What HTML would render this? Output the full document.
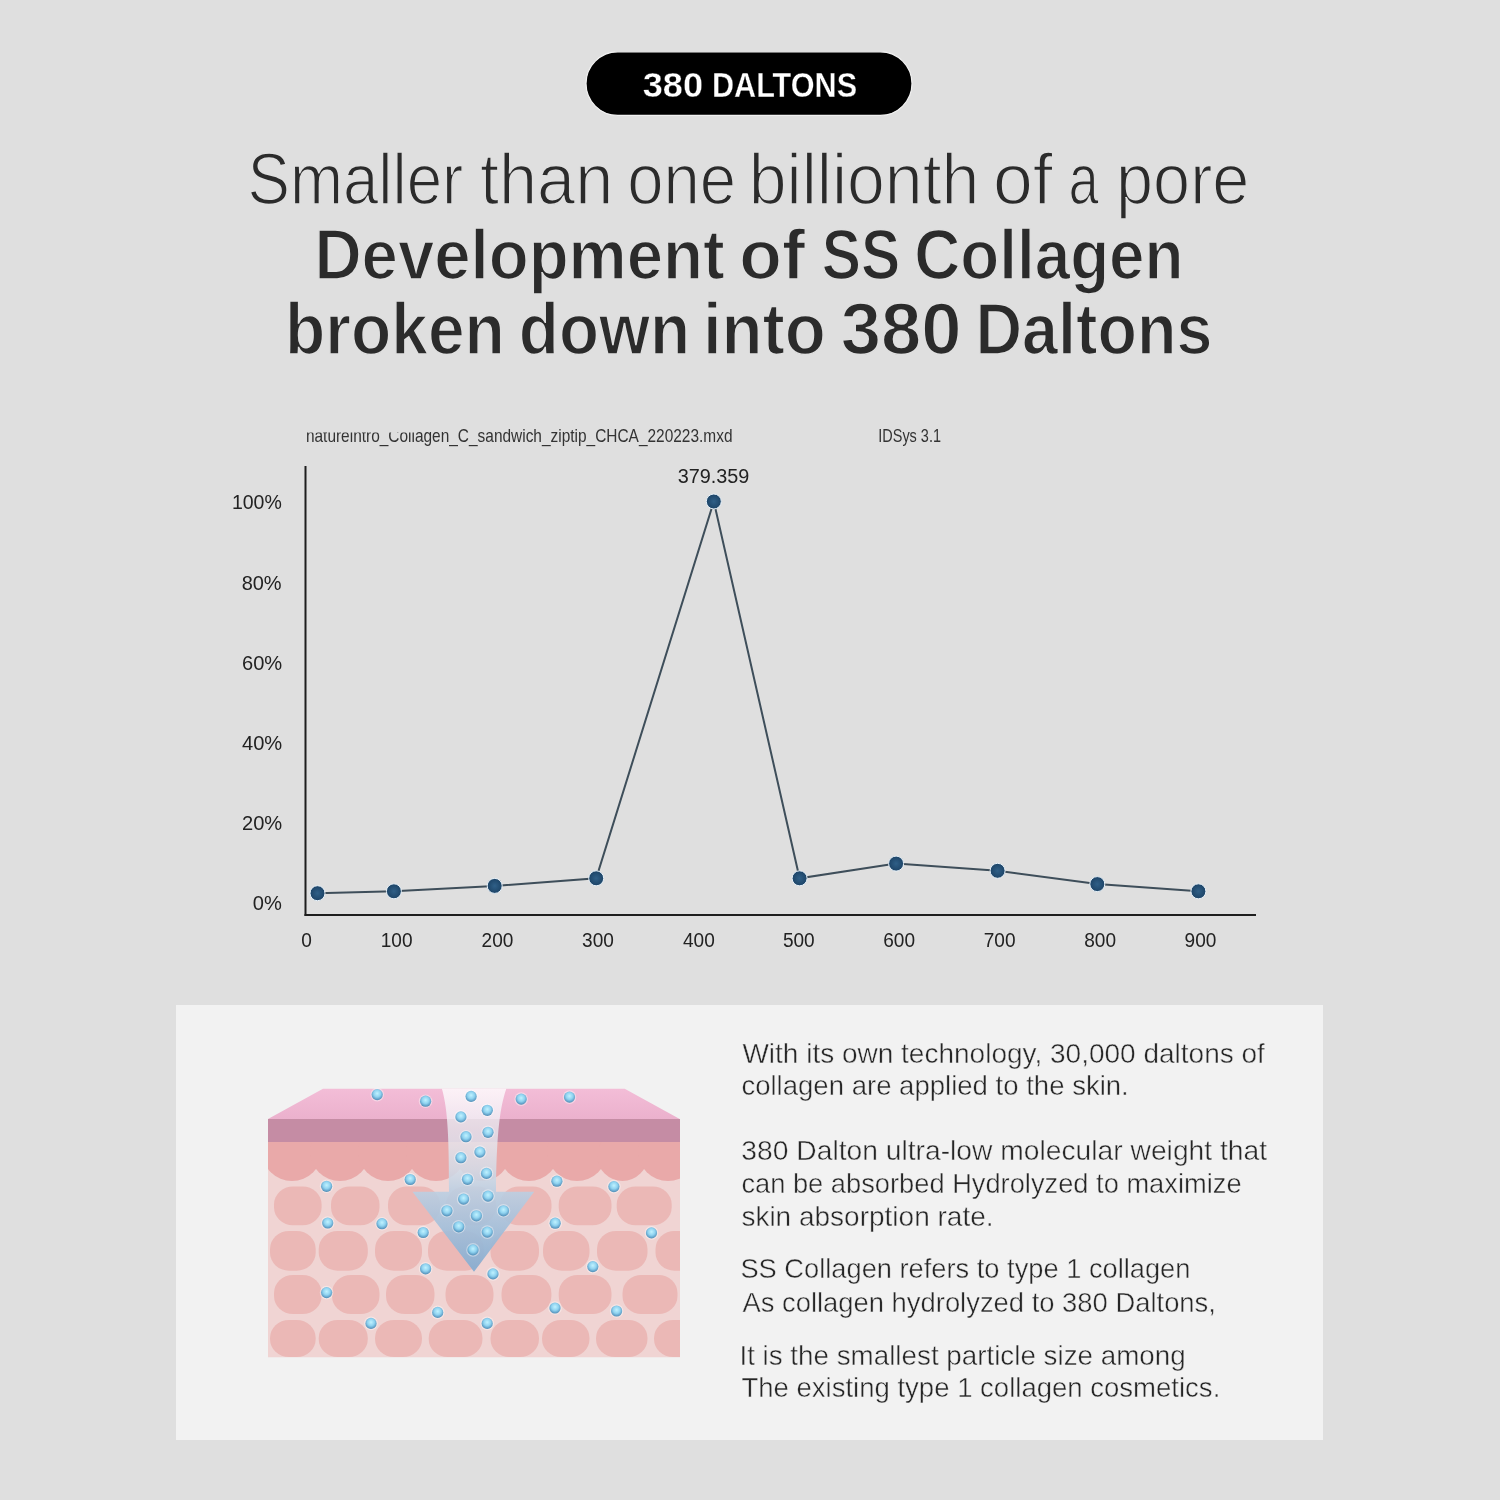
<!DOCTYPE html>
<html><head><meta charset="utf-8"><style>
html,body{margin:0;padding:0;background:#dfdfdf;width:1500px;height:1500px;overflow:hidden}
svg{display:block}
text{font-family:"Liberation Sans",sans-serif}
</style></head><body>
<svg style="will-change:transform" width="1500" height="1500" viewBox="0 0 1500 1500">
<defs>
<radialGradient id="dotg" cx="0.5" cy="0.5" r="0.5"><stop offset="0" stop-color="#2f5f87"/><stop offset="1" stop-color="#1d4467"/></radialGradient>
<radialGradient id="molg" cx="0.5" cy="0.4" r="0.62"><stop offset="0" stop-color="#c0f2ff"/><stop offset="0.5" stop-color="#90d3f0"/><stop offset="0.85" stop-color="#5f9ec6"/><stop offset="1" stop-color="#4d85ab"/></radialGradient>
<linearGradient id="topg" x1="0" y1="0" x2="0" y2="1"><stop offset="0" stop-color="#f3bdd7"/><stop offset="1" stop-color="#ebb1cd"/></linearGradient>
<linearGradient id="shaftg" x1="0" y1="1088" x2="0" y2="1272" gradientUnits="userSpaceOnUse"><stop offset="0" stop-color="#ffffff" stop-opacity="0.8"/><stop offset="0.23" stop-color="#eef0f6" stop-opacity="0.75"/><stop offset="0.44" stop-color="#d3dde9" stop-opacity="0.85"/><stop offset="0.56" stop-color="#bccfe2" stop-opacity="0.9"/><stop offset="1" stop-color="#86acd0" stop-opacity="0.95"/></linearGradient>
<linearGradient id="headg" x1="0" y1="1191" x2="0" y2="1272" gradientUnits="userSpaceOnUse"><stop offset="0" stop-color="#b0cade"/><stop offset="1" stop-color="#86afd0"/></linearGradient>
<clipPath id="fnclip"><rect x="0" y="432.4" width="414.5" height="30"/><rect x="414.5" y="400" width="1000" height="60"/></clipPath>
<clipPath id="illclip"><rect x="268" y="1080" width="412" height="277.5"/></clipPath>
</defs>
<rect width="1500" height="1500" fill="#dfdfdf"/>
<rect x="586" y="51.8" width="326" height="63.6" rx="31.8" fill="#000" stroke="#f2f2f2" stroke-width="1.2"/>
<!-- chart -->
<line x1="305.5" y1="466" x2="305.5" y2="916" stroke="#1e1e1e" stroke-width="2"/>
<line x1="304.5" y1="915" x2="1256" y2="915" stroke="#1e1e1e" stroke-width="2"/>
<polyline points="317.5,893.2 393.9,891.3 494.7,885.9 596.2,878.3 713.8,501.5 799.6,878.3 896.1,863.6 997.6,870.8 1097.3,884.1 1198.4,891.3" fill="none" stroke="#3e4e5a" stroke-width="2"/>
<circle cx="317.5" cy="893.2" r="7.5" fill="url(#dotg)" stroke="#e8f2fa" stroke-width="1"/><circle cx="393.9" cy="891.3" r="7.5" fill="url(#dotg)" stroke="#e8f2fa" stroke-width="1"/><circle cx="494.7" cy="885.9" r="7.5" fill="url(#dotg)" stroke="#e8f2fa" stroke-width="1"/><circle cx="596.2" cy="878.3" r="7.5" fill="url(#dotg)" stroke="#e8f2fa" stroke-width="1"/><circle cx="713.8" cy="501.5" r="7.5" fill="url(#dotg)" stroke="#e8f2fa" stroke-width="1"/><circle cx="799.6" cy="878.3" r="7.5" fill="url(#dotg)" stroke="#e8f2fa" stroke-width="1"/><circle cx="896.1" cy="863.6" r="7.5" fill="url(#dotg)" stroke="#e8f2fa" stroke-width="1"/><circle cx="997.6" cy="870.8" r="7.5" fill="url(#dotg)" stroke="#e8f2fa" stroke-width="1"/><circle cx="1097.3" cy="884.1" r="7.5" fill="url(#dotg)" stroke="#e8f2fa" stroke-width="1"/><circle cx="1198.4" cy="891.3" r="7.5" fill="url(#dotg)" stroke="#e8f2fa" stroke-width="1"/>
<!-- panel -->
<rect x="176" y="1005" width="1147" height="435" fill="#f2f2f2"/>
<g clip-path="url(#illclip)">
<polygon points="323,1088.8 624.7,1088.8 679.7,1119 268,1119" fill="url(#topg)"/>
<rect x="268" y="1142" width="412" height="215.5" fill="#f0d4d3"/>
<rect x="274" y="1186.4" width="47.6" height="38.9" rx="19" ry="18" fill="#ebb8b6"/><rect x="331" y="1186.4" width="48.5" height="38.9" rx="19" ry="18" fill="#ebb8b6"/><rect x="388" y="1186.4" width="52.0" height="38.9" rx="19" ry="18" fill="#ebb8b6"/><rect x="446" y="1186.4" width="50.0" height="38.9" rx="19" ry="18" fill="#ebb8b6"/><rect x="500" y="1186.4" width="51.5" height="38.9" rx="19" ry="18" fill="#ebb8b6"/><rect x="558.7" y="1186.4" width="52.8" height="38.9" rx="19" ry="18" fill="#ebb8b6"/><rect x="616.7" y="1186.4" width="55.0" height="38.9" rx="19" ry="18" fill="#ebb8b6"/><rect x="270" y="1231" width="45.7" height="39.7" rx="19" ry="18" fill="#ebb8b6"/><rect x="318.7" y="1231" width="49.1" height="39.7" rx="19" ry="18" fill="#ebb8b6"/><rect x="375" y="1231" width="47.0" height="39.7" rx="19" ry="18" fill="#ebb8b6"/><rect x="428" y="1231" width="56.0" height="39.7" rx="19" ry="18" fill="#ebb8b6"/><rect x="490.5" y="1231" width="48.5" height="39.7" rx="19" ry="18" fill="#ebb8b6"/><rect x="543" y="1231" width="46.5" height="39.7" rx="19" ry="18" fill="#ebb8b6"/><rect x="597" y="1231" width="50.5" height="39.7" rx="19" ry="18" fill="#ebb8b6"/><rect x="655.5" y="1231" width="49.5" height="39.7" rx="19" ry="18" fill="#ebb8b6"/><rect x="274" y="1275" width="47.6" height="39.0" rx="19" ry="18" fill="#ebb8b6"/><rect x="332" y="1275" width="47.5" height="39.0" rx="19" ry="18" fill="#ebb8b6"/><rect x="386" y="1275" width="48.5" height="39.0" rx="19" ry="18" fill="#ebb8b6"/><rect x="445.5" y="1275" width="48.0" height="39.0" rx="19" ry="18" fill="#ebb8b6"/><rect x="501.5" y="1275" width="49.9" height="39.0" rx="19" ry="18" fill="#ebb8b6"/><rect x="558.7" y="1275" width="52.8" height="39.0" rx="19" ry="18" fill="#ebb8b6"/><rect x="622.5" y="1275" width="55.0" height="39.0" rx="19" ry="18" fill="#ebb8b6"/><rect x="270" y="1320" width="45.7" height="37.0" rx="19" ry="18" fill="#ebb8b6"/><rect x="318.7" y="1320" width="49.1" height="37.0" rx="19" ry="18" fill="#ebb8b6"/><rect x="375" y="1320" width="47.0" height="37.0" rx="19" ry="18" fill="#ebb8b6"/><rect x="428.7" y="1320" width="53.8" height="37.0" rx="19" ry="18" fill="#ebb8b6"/><rect x="490.5" y="1320" width="48.5" height="37.0" rx="19" ry="18" fill="#ebb8b6"/><rect x="542" y="1320" width="47.5" height="37.0" rx="19" ry="18" fill="#ebb8b6"/><rect x="596" y="1320" width="51.5" height="37.0" rx="19" ry="18" fill="#ebb8b6"/><rect x="654" y="1320" width="51.0" height="37.0" rx="19" ry="18" fill="#ebb8b6"/>
<rect x="268" y="1142" width="412" height="27" fill="#e9a9a9"/>
<circle cx="292.0" cy="1151.00" r="30.00" fill="#e9a9a9"/><circle cx="340.0" cy="1151.00" r="30.00" fill="#e9a9a9"/><circle cx="388.0" cy="1151.00" r="30.00" fill="#e9a9a9"/><circle cx="436.0" cy="1151.00" r="30.00" fill="#e9a9a9"/><circle cx="482.5" cy="1153.91" r="27.09" fill="#e9a9a9"/><circle cx="529.0" cy="1151.00" r="30.00" fill="#e9a9a9"/><circle cx="577.0" cy="1151.00" r="30.00" fill="#e9a9a9"/><circle cx="622.5" cy="1155.74" r="25.26" fill="#e9a9a9"/><circle cx="668.0" cy="1151.00" r="30.00" fill="#e9a9a9"/>
<rect x="268" y="1119" width="412" height="23" fill="#c58ca4"/>
<path d="M441.9,1088.8 L506.3,1088.8 C499,1110 496.5,1140 496,1191.7 L534.2,1191.7 L474,1271.7 L412.5,1191.7 L449,1191.7 C449,1140 448,1110 441.9,1088.8 Z" fill="url(#shaftg)"/>
<circle cx="377.2" cy="1094.6" r="6.8" fill="#ffffff" fill-opacity="0.4"/><circle cx="377.2" cy="1094.6" r="5.6" fill="url(#molg)"/><circle cx="425.6" cy="1101.2" r="6.8" fill="#ffffff" fill-opacity="0.4"/><circle cx="425.6" cy="1101.2" r="5.6" fill="url(#molg)"/><circle cx="471.1" cy="1096.4" r="6.8" fill="#ffffff" fill-opacity="0.4"/><circle cx="471.1" cy="1096.4" r="5.6" fill="url(#molg)"/><circle cx="521.2" cy="1099.1" r="6.8" fill="#ffffff" fill-opacity="0.4"/><circle cx="521.2" cy="1099.1" r="5.6" fill="url(#molg)"/><circle cx="569.5" cy="1097.1" r="6.8" fill="#ffffff" fill-opacity="0.4"/><circle cx="569.5" cy="1097.1" r="5.6" fill="url(#molg)"/><circle cx="487.3" cy="1110.3" r="6.8" fill="#ffffff" fill-opacity="0.4"/><circle cx="487.3" cy="1110.3" r="5.6" fill="url(#molg)"/><circle cx="460.9" cy="1116.9" r="6.8" fill="#ffffff" fill-opacity="0.4"/><circle cx="460.9" cy="1116.9" r="5.6" fill="url(#molg)"/><circle cx="488.0" cy="1132.3" r="6.8" fill="#ffffff" fill-opacity="0.4"/><circle cx="488.0" cy="1132.3" r="5.6" fill="url(#molg)"/><circle cx="466.0" cy="1136.7" r="6.8" fill="#ffffff" fill-opacity="0.4"/><circle cx="466.0" cy="1136.7" r="5.6" fill="url(#molg)"/><circle cx="479.9" cy="1152.1" r="6.8" fill="#ffffff" fill-opacity="0.4"/><circle cx="479.9" cy="1152.1" r="5.6" fill="url(#molg)"/><circle cx="460.9" cy="1157.7" r="6.8" fill="#ffffff" fill-opacity="0.4"/><circle cx="460.9" cy="1157.7" r="5.6" fill="url(#molg)"/><circle cx="486.5" cy="1173.4" r="6.8" fill="#ffffff" fill-opacity="0.4"/><circle cx="486.5" cy="1173.4" r="5.6" fill="url(#molg)"/><circle cx="467.5" cy="1179.3" r="6.8" fill="#ffffff" fill-opacity="0.4"/><circle cx="467.5" cy="1179.3" r="5.6" fill="url(#molg)"/><circle cx="410.2" cy="1179.5" r="6.8" fill="#ffffff" fill-opacity="0.4"/><circle cx="410.2" cy="1179.5" r="5.6" fill="url(#molg)"/><circle cx="326.6" cy="1186.3" r="6.8" fill="#ffffff" fill-opacity="0.4"/><circle cx="326.6" cy="1186.3" r="5.6" fill="url(#molg)"/><circle cx="556.9" cy="1181.2" r="6.8" fill="#ffffff" fill-opacity="0.4"/><circle cx="556.9" cy="1181.2" r="5.6" fill="url(#molg)"/><circle cx="613.9" cy="1186.6" r="6.8" fill="#ffffff" fill-opacity="0.4"/><circle cx="613.9" cy="1186.6" r="5.6" fill="url(#molg)"/><circle cx="463.6" cy="1199.1" r="6.8" fill="#ffffff" fill-opacity="0.4"/><circle cx="463.6" cy="1199.1" r="5.6" fill="url(#molg)"/><circle cx="488.0" cy="1196.1" r="6.8" fill="#ffffff" fill-opacity="0.4"/><circle cx="488.0" cy="1196.1" r="5.6" fill="url(#molg)"/><circle cx="446.9" cy="1210.8" r="6.8" fill="#ffffff" fill-opacity="0.4"/><circle cx="446.9" cy="1210.8" r="5.6" fill="url(#molg)"/><circle cx="476.4" cy="1215.8" r="6.8" fill="#ffffff" fill-opacity="0.4"/><circle cx="476.4" cy="1215.8" r="5.6" fill="url(#molg)"/><circle cx="503.5" cy="1210.8" r="6.8" fill="#ffffff" fill-opacity="0.4"/><circle cx="503.5" cy="1210.8" r="5.6" fill="url(#molg)"/><circle cx="458.7" cy="1226.8" r="6.8" fill="#ffffff" fill-opacity="0.4"/><circle cx="458.7" cy="1226.8" r="5.6" fill="url(#molg)"/><circle cx="487.3" cy="1232.1" r="6.8" fill="#ffffff" fill-opacity="0.4"/><circle cx="487.3" cy="1232.1" r="5.6" fill="url(#molg)"/><circle cx="327.7" cy="1223.0" r="6.8" fill="#ffffff" fill-opacity="0.4"/><circle cx="327.7" cy="1223.0" r="5.6" fill="url(#molg)"/><circle cx="382.0" cy="1223.7" r="6.8" fill="#ffffff" fill-opacity="0.4"/><circle cx="382.0" cy="1223.7" r="5.6" fill="url(#molg)"/><circle cx="423.2" cy="1232.5" r="6.8" fill="#ffffff" fill-opacity="0.4"/><circle cx="423.2" cy="1232.5" r="5.6" fill="url(#molg)"/><circle cx="555.2" cy="1223.2" r="6.8" fill="#ffffff" fill-opacity="0.4"/><circle cx="555.2" cy="1223.2" r="5.6" fill="url(#molg)"/><circle cx="651.5" cy="1232.9" r="6.8" fill="#ffffff" fill-opacity="0.4"/><circle cx="651.5" cy="1232.9" r="5.6" fill="url(#molg)"/><circle cx="473.0" cy="1249.9" r="6.8" fill="#ffffff" fill-opacity="0.4"/><circle cx="473.0" cy="1249.9" r="5.6" fill="url(#molg)"/><circle cx="425.6" cy="1268.8" r="6.8" fill="#ffffff" fill-opacity="0.4"/><circle cx="425.6" cy="1268.8" r="5.6" fill="url(#molg)"/><circle cx="493.0" cy="1273.9" r="6.8" fill="#ffffff" fill-opacity="0.4"/><circle cx="493.0" cy="1273.9" r="5.6" fill="url(#molg)"/><circle cx="592.8" cy="1266.6" r="6.8" fill="#ffffff" fill-opacity="0.4"/><circle cx="592.8" cy="1266.6" r="5.6" fill="url(#molg)"/><circle cx="326.6" cy="1292.6" r="6.8" fill="#ffffff" fill-opacity="0.4"/><circle cx="326.6" cy="1292.6" r="5.6" fill="url(#molg)"/><circle cx="437.7" cy="1312.4" r="6.8" fill="#ffffff" fill-opacity="0.4"/><circle cx="437.7" cy="1312.4" r="5.6" fill="url(#molg)"/><circle cx="371.0" cy="1323.4" r="6.8" fill="#ffffff" fill-opacity="0.4"/><circle cx="371.0" cy="1323.4" r="5.6" fill="url(#molg)"/><circle cx="487.2" cy="1323.4" r="6.8" fill="#ffffff" fill-opacity="0.4"/><circle cx="487.2" cy="1323.4" r="5.6" fill="url(#molg)"/><circle cx="555.0" cy="1308.0" r="6.8" fill="#ffffff" fill-opacity="0.4"/><circle cx="555.0" cy="1308.0" r="5.6" fill="url(#molg)"/><circle cx="616.6" cy="1311.0" r="6.8" fill="#ffffff" fill-opacity="0.4"/><circle cx="616.6" cy="1311.0" r="5.6" fill="url(#molg)"/>
</g>
<text x="642.78" y="96.90" font-size="35.4" font-weight="700" fill="#ffffff" textLength="60.31" lengthAdjust="spacingAndGlyphs" stroke="#000000" stroke-width="0.35">380</text>
<text x="711.97" y="96.90" font-size="35.4" font-weight="700" fill="#ffffff" textLength="145.11" lengthAdjust="spacingAndGlyphs" stroke="#000000" stroke-width="0.35">DALTONS</text>
<text x="305.93" y="442.40" font-size="17.8" font-weight="400" fill="#333333" textLength="426.57" lengthAdjust="spacingAndGlyphs" clip-path="url(#fnclip)">natureintro_Collagen_C_sandwich_ziptip_CHCA_220223.mxd</text>
<text x="878.27" y="442.40" font-size="17.8" font-weight="400" fill="#333333" textLength="62.72" lengthAdjust="spacingAndGlyphs">IDSys 3.1</text>
<text x="677.73" y="482.60" font-size="20.5" font-weight="400" fill="#222222" textLength="71.64" lengthAdjust="spacingAndGlyphs">379.359</text>
<text x="247.46" y="204.00" font-size="72" font-weight="400" fill="#2b2b2b" textLength="215.78" lengthAdjust="spacingAndGlyphs" stroke="#dfdfdf" stroke-width="1.6">Smaller</text>
<text x="480.05" y="204.00" font-size="72" font-weight="400" fill="#2b2b2b" textLength="133.13" lengthAdjust="spacingAndGlyphs" stroke="#dfdfdf" stroke-width="1.6">than</text>
<text x="627.28" y="204.00" font-size="72" font-weight="400" fill="#2b2b2b" textLength="108.86" lengthAdjust="spacingAndGlyphs" stroke="#dfdfdf" stroke-width="1.6">one</text>
<text x="748.78" y="204.00" font-size="72" font-weight="400" fill="#2b2b2b" textLength="230.61" lengthAdjust="spacingAndGlyphs" stroke="#dfdfdf" stroke-width="1.6">billionth</text>
<text x="993.02" y="204.00" font-size="72" font-weight="400" fill="#2b2b2b" textLength="59.73" lengthAdjust="spacingAndGlyphs" stroke="#dfdfdf" stroke-width="1.6">of</text>
<text x="1068.44" y="204.00" font-size="72" font-weight="400" fill="#2b2b2b" textLength="30.20" lengthAdjust="spacingAndGlyphs" stroke="#dfdfdf" stroke-width="1.6">a</text>
<text x="1116.08" y="204.00" font-size="72" font-weight="400" fill="#2b2b2b" textLength="133.30" lengthAdjust="spacingAndGlyphs" stroke="#dfdfdf" stroke-width="1.6">pore</text>
<text x="314.40" y="278.60" font-size="71" font-weight="700" fill="#2b2b2b" textLength="410.38" lengthAdjust="spacingAndGlyphs" stroke="#dfdfdf" stroke-width="1.6">Development</text>
<text x="739.36" y="278.60" font-size="71" font-weight="700" fill="#2b2b2b" textLength="65.76" lengthAdjust="spacingAndGlyphs" stroke="#dfdfdf" stroke-width="1.6">of</text>
<text x="821.84" y="278.60" font-size="71" font-weight="700" fill="#2b2b2b" textLength="78.41" lengthAdjust="spacingAndGlyphs" stroke="#dfdfdf" stroke-width="1.6">SS</text>
<text x="914.31" y="278.60" font-size="71" font-weight="700" fill="#2b2b2b" textLength="269.22" lengthAdjust="spacingAndGlyphs" stroke="#dfdfdf" stroke-width="1.6">Collagen</text>
<text x="284.99" y="353.80" font-size="71.5" font-weight="700" fill="#2b2b2b" textLength="219.86" lengthAdjust="spacingAndGlyphs" stroke="#dfdfdf" stroke-width="1.6">broken</text>
<text x="518.85" y="353.80" font-size="71.5" font-weight="700" fill="#2b2b2b" textLength="171.21" lengthAdjust="spacingAndGlyphs" stroke="#dfdfdf" stroke-width="1.6">down</text>
<text x="702.91" y="353.80" font-size="71.5" font-weight="700" fill="#2b2b2b" textLength="122.94" lengthAdjust="spacingAndGlyphs" stroke="#dfdfdf" stroke-width="1.6">into</text>
<text x="840.78" y="353.80" font-size="71.5" font-weight="700" fill="#2b2b2b" textLength="120.76" lengthAdjust="spacingAndGlyphs" stroke="#dfdfdf" stroke-width="1.6">380</text>
<text x="975.48" y="353.80" font-size="71.5" font-weight="700" fill="#2b2b2b" textLength="236.91" lengthAdjust="spacingAndGlyphs" stroke="#dfdfdf" stroke-width="1.6">Daltons</text>
<text x="242.00" y="669.80" font-size="20.5" font-weight="400" fill="#222222" textLength="40.21" lengthAdjust="spacingAndGlyphs">60%</text>
<text x="242.00" y="749.80" font-size="20.5" font-weight="400" fill="#222222" textLength="40.21" lengthAdjust="spacingAndGlyphs">40%</text>
<text x="242.00" y="829.80" font-size="20.5" font-weight="400" fill="#222222" textLength="40.21" lengthAdjust="spacingAndGlyphs">20%</text>
<text x="252.78" y="909.80" font-size="20.5" font-weight="400" fill="#222222" textLength="29.05" lengthAdjust="spacingAndGlyphs">0%</text>
<text x="231.90" y="509.30" font-size="20.5" font-weight="400" fill="#222222" textLength="49.92" lengthAdjust="spacingAndGlyphs">100%</text>
<text x="241.63" y="589.80" font-size="20.5" font-weight="400" fill="#222222" textLength="39.98" lengthAdjust="spacingAndGlyphs">80%</text>
<text x="301.22" y="947.20" font-size="20.5" font-weight="400" fill="#222222" textLength="10.61" lengthAdjust="spacingAndGlyphs">0</text>
<text x="380.73" y="947.20" font-size="20.5" font-weight="400" fill="#222222" textLength="31.82" lengthAdjust="spacingAndGlyphs">100</text>
<text x="481.59" y="947.20" font-size="20.5" font-weight="400" fill="#222222" textLength="31.82" lengthAdjust="spacingAndGlyphs">200</text>
<text x="582.09" y="947.20" font-size="20.5" font-weight="400" fill="#222222" textLength="31.82" lengthAdjust="spacingAndGlyphs">300</text>
<text x="682.95" y="947.20" font-size="20.5" font-weight="400" fill="#222222" textLength="31.82" lengthAdjust="spacingAndGlyphs">400</text>
<text x="782.89" y="947.20" font-size="20.5" font-weight="400" fill="#222222" textLength="31.82" lengthAdjust="spacingAndGlyphs">500</text>
<text x="883.19" y="947.20" font-size="20.5" font-weight="400" fill="#222222" textLength="31.82" lengthAdjust="spacingAndGlyphs">600</text>
<text x="983.69" y="947.20" font-size="20.5" font-weight="400" fill="#222222" textLength="31.82" lengthAdjust="spacingAndGlyphs">700</text>
<text x="1084.19" y="947.20" font-size="20.5" font-weight="400" fill="#222222" textLength="31.82" lengthAdjust="spacingAndGlyphs">800</text>
<text x="1184.59" y="947.20" font-size="20.5" font-weight="400" fill="#222222" textLength="31.82" lengthAdjust="spacingAndGlyphs">900</text>
<text x="742.40" y="1063.00" font-size="28" font-weight="400" fill="#262626" stroke="#f2f2f2" stroke-width="0.45">With its own technology, 30,000 daltons of</text>
<text x="741.42" y="1095.20" font-size="28" font-weight="400" fill="#262626" textLength="387.37" lengthAdjust="spacingAndGlyphs" stroke="#f2f2f2" stroke-width="0.45">collagen are applied to the skin.</text>
<text x="741.39" y="1160.20" font-size="28" font-weight="400" fill="#262626" textLength="525.70" lengthAdjust="spacingAndGlyphs" stroke="#f2f2f2" stroke-width="0.45">380 Dalton ultra-low molecular weight that</text>
<text x="741.43" y="1193.20" font-size="28" font-weight="400" fill="#262626" textLength="500.13" lengthAdjust="spacingAndGlyphs" stroke="#f2f2f2" stroke-width="0.45">can be absorbed Hydrolyzed to maximize</text>
<text x="741.40" y="1226.00" font-size="28" font-weight="400" fill="#262626" stroke="#f2f2f2" stroke-width="0.45">skin absorption rate.</text>
<text x="740.45" y="1278.40" font-size="28" font-weight="400" fill="#262626" textLength="449.99" lengthAdjust="spacingAndGlyphs" stroke="#f2f2f2" stroke-width="0.45">SS Collagen refers to type 1 collagen</text>
<text x="742.40" y="1312.00" font-size="28" font-weight="400" fill="#262626" textLength="473.53" lengthAdjust="spacingAndGlyphs" stroke="#f2f2f2" stroke-width="0.45">As collagen hydrolyzed to 380 Daltons,</text>
<text x="739.42" y="1364.50" font-size="28" font-weight="400" fill="#262626" textLength="446.31" lengthAdjust="spacingAndGlyphs" stroke="#f2f2f2" stroke-width="0.45">It is the smallest particle size among</text>
<text x="741.42" y="1396.60" font-size="28" font-weight="400" fill="#262626" textLength="478.89" lengthAdjust="spacingAndGlyphs" stroke="#f2f2f2" stroke-width="0.45">The existing type 1 collagen cosmetics.</text>
</svg>
</body></html>
